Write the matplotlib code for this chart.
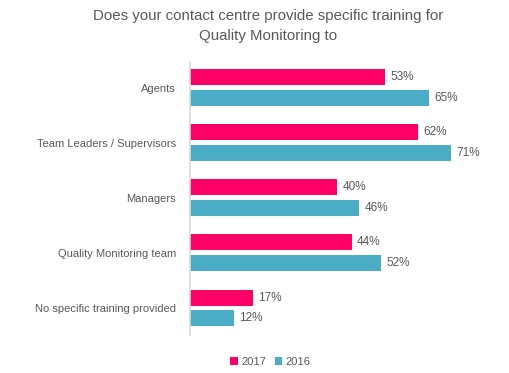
import matplotlib
matplotlib.use('Agg')
import matplotlib.pyplot as plt
import numpy as np

plt.rcParams['font.family'] = ['Liberation Sans', 'DejaVu Sans']

categories = ['Agents', 'Team Leaders / Supervisors', 'Managers',
              'Quality Monitoring team', 'No specific training provided']
values_2017 = [53, 62, 40, 44, 17]
values_2016 = [65, 71, 46, 52, 12]

PINK = '#FF0066'
TEAL = '#4BACC6'
GREY = '#595959'

fig = plt.figure(figsize=(5.1, 3.73), dpi=100)
ax = fig.add_axes([0.3725, 0.102, 0.577, 0.732])

y = np.arange(len(categories))
h = 0.29
off = 0.19
b17 = ax.barh(y - off, values_2017, height=h, color=PINK, label='2017')
b16 = ax.barh(y + off, values_2016, height=h, color=TEAL, label='2016')

for bars, vals in ((b17, values_2017), (b16, values_2016)):
    for bar, v in zip(bars, vals):
        ax.text(bar.get_width() + 1.4, bar.get_y() + bar.get_height() / 2,
                f'{v}%', va='center', ha='left', fontsize=8.5, color=GREY)

ax.set_xlim(0, 80)
ax.set_ylim(4.49, -0.47)
ax.set_yticks(y)
ax.set_yticklabels(categories, fontsize=8, color=GREY)
ax.tick_params(axis='y', length=0, pad=10)
ax.set_xticks([])
for s in ('top', 'right', 'bottom'):
    ax.spines[s].set_visible(False)
ax.spines['left'].set_color('#D9D9D9')
ax.spines['left'].set_linewidth(1.2)

fig.text(0.525, 0.93, 'Does your contact centre provide specific training for\nQuality Monitoring to',
         ha='center', va='center', fontsize=10.8, color=GREY, linespacing=1.5)

fig.legend(loc='center', bbox_to_anchor=(0.53, 0.03), ncol=2, frameon=False,
           fontsize=8, handlelength=0.7, handleheight=0.7, handletextpad=0.3,
           columnspacing=0.8, labelcolor=GREY)

fig.savefig('out.png', dpi=100)
